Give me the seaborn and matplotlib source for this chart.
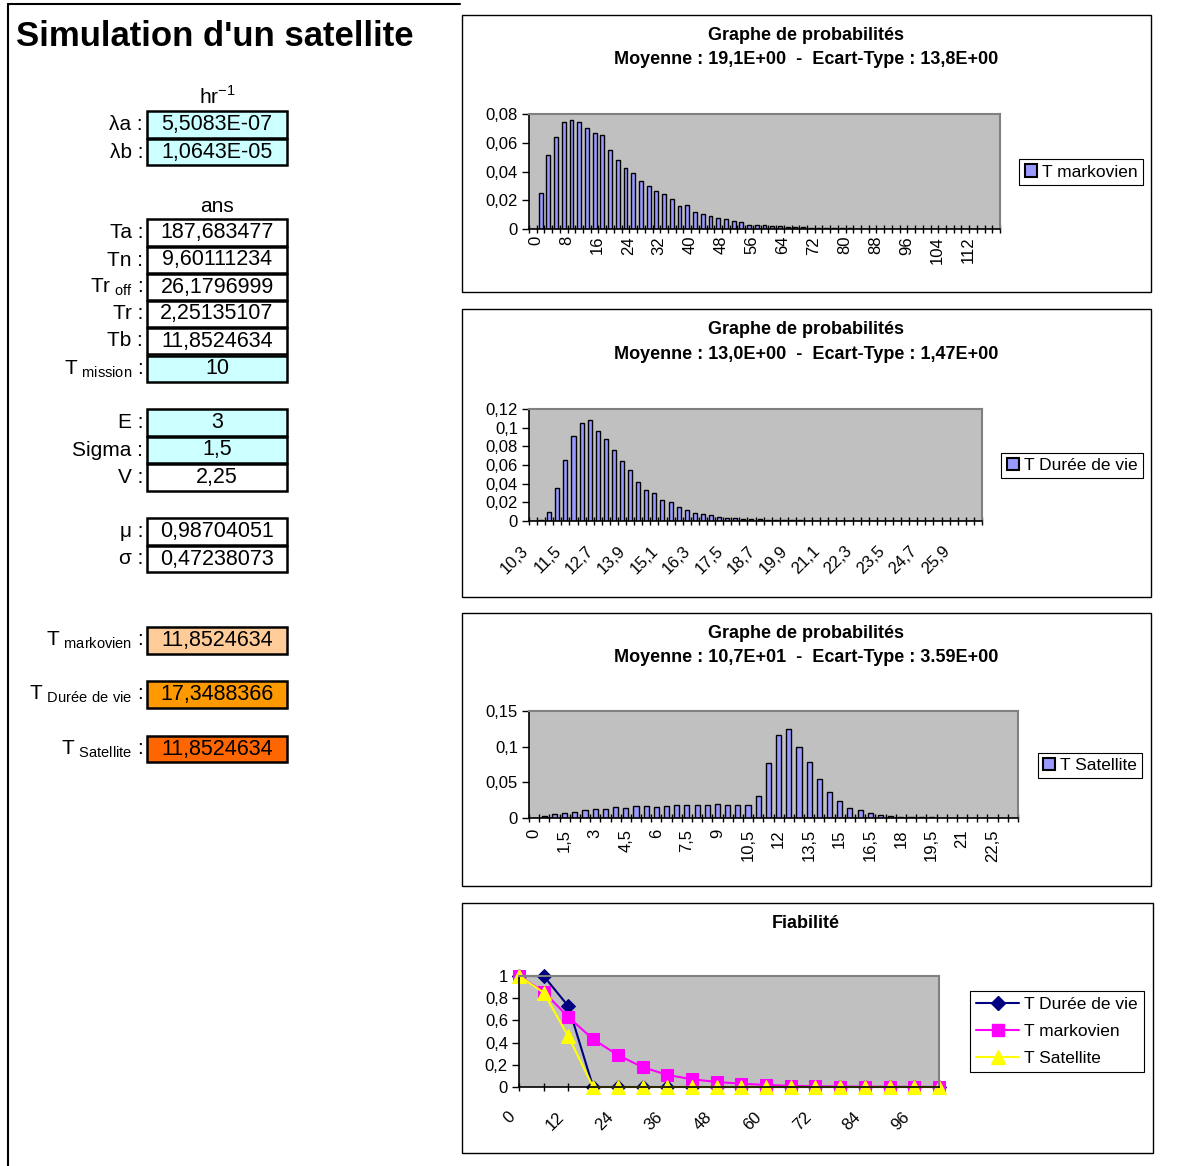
import numpy as np
import pandas as pd
import matplotlib
matplotlib.use("Agg")
import matplotlib.pyplot as plt
import seaborn as sns
from matplotlib.patches import Rectangle, Patch
from matplotlib.lines import Line2D

# ---------------- data ----------------
title_main = "Simulation d'un satellite"

# Chart 1 : T markovien (categories 0..120 step 2)
markov_cats = list(range(0, 121, 2))
markov_prob = [0, 0.025, 0.0515, 0.0639, 0.0742, 0.076, 0.0744, 0.0702, 0.0671, 0.0657,
               0.055, 0.048, 0.0426, 0.039, 0.0337, 0.0302, 0.0262, 0.0243, 0.0206, 0.0157,
               0.0166, 0.0115, 0.0105, 0.0089, 0.0077, 0.0073, 0.0054, 0.0051, 0.003, 0.003,
               0.0028, 0.0021, 0.0019, 0.0016, 0.0014, 0.0012, 0.0010, 0.0009, 0.0007, 0.0006,
               0.0005, 0.0004, 0.0003, 0.0003, 0.0002, 0.0002, 0, 0, 0, 0,
               0, 0, 0, 0, 0, 0, 0, 0, 0, 0, 0]

# Chart 2 : T Durée de vie (categories 10,3 .. 26,8 step 0,3)
vie_cats = [10.3, 10.6, 10.9, 11.2, 11.5, 11.8, 12.1, 12.4, 12.7, 13.0, 13.3, 13.6, 13.9, 14.2,
            14.5, 14.8, 15.1, 15.4, 15.7, 16.0, 16.3, 16.6, 16.9, 17.2, 17.5, 17.8, 18.1, 18.4,
            18.7, 19.0, 19.3, 19.6, 19.9, 20.2, 20.5, 20.8, 21.1, 21.4, 21.7, 22.0, 22.3, 22.6,
            22.9, 23.2, 23.5, 23.8, 24.1, 24.4, 24.7, 25.0, 25.3, 25.6, 25.9, 26.2, 26.5, 26.8]
vie_prob = [0, 0.0014, 0.0097, 0.0349, 0.065, 0.0913, 0.105, 0.1078, 0.0963, 0.0877,
            0.0762, 0.064, 0.0543, 0.0413, 0.0334, 0.0295, 0.023, 0.0201, 0.0151, 0.0122,
            0.009, 0.0072, 0.0061, 0.0047, 0.0036, 0.0029, 0.0025, 0.0022, 0.0018, 0.0014,
            0.001, 0.0009, 0.0008, 0.0006, 0.0005, 0.0004, 0.0003, 0.0003, 0.0002, 0.0002,
            0, 0, 0, 0, 0, 0, 0, 0, 0, 0, 0, 0, 0, 0, 0, 0]

# Chart 3 : T Satellite (categories 0 .. 23,5 step 0,5)
sat_cats = [0, 0.5, 1, 1.5, 2, 2.5, 3, 3.5, 4, 4.5, 5, 5.5, 6, 6.5, 7, 7.5, 8, 8.5, 9, 9.5,
            10, 10.5, 11, 11.5, 12, 12.5, 13, 13.5, 14, 14.5, 15, 15.5, 16, 16.5, 17, 17.5,
            18, 18.5, 19, 19.5, 20, 20.5, 21, 21.5, 22, 22.5, 23, 23.5]
sat_prob = [0, 0.0033, 0.0057, 0.0075, 0.009, 0.0113, 0.0127, 0.0123, 0.0151, 0.0146,
            0.0175, 0.0165, 0.016, 0.0175, 0.0184, 0.0189, 0.0184, 0.0189, 0.0198, 0.0184,
            0.0184, 0.0184, 0.031, 0.077, 0.117, 0.1245, 0.099, 0.079, 0.0552, 0.037,
            0.0236, 0.0142, 0.0113, 0.0075, 0.0042, 0.0028, 0.0019, 0.0014, 0.001, 0.0008,
            0.0006, 0.0005, 0.0004, 0, 0, 0, 0, 0]

# Chart 4 : Fiabilité
fiab_x = [0, 6, 12, 18, 24, 30, 36, 42, 48, 54, 60, 66, 72, 78, 84, 90, 96, 102]
fiab_duree = [1, 1, 0.727, 0, 0, 0, 0, 0, 0, 0, 0, 0, 0, 0, 0, 0, 0, 0]
fiab_markov = [1.0, 0.857, 0.63, 0.43, 0.288, 0.179, 0.109, 0.07, 0.045, 0.03,
               0.018, 0.011, 0.007, 0.004, 0.003, 0.002, 0.001, 0.001]
fiab_sat = [1.0, 0.85, 0.455, 0, 0, 0, 0, 0, 0, 0, 0, 0, 0, 0, 0, 0, 0, 0]

# Left panel table
rate_labels = ["λa :", "λb :"]
rate_values = ["5,5083E-07", "1,0643E-05"]
time_labels = ["Ta :", "Tn :", "Tr$_{\\mathregular{\\ off}}$ :", "Tr :", "Tb :",
               "T$_{\\mathregular{\\ mission}}$ :"]
time_values = ["187,683477", "9,60111234", "26,1796999", "2,25135107", "11,8524634", "10"]
law_labels = ["E :", "Sigma :", "V :"]
law_values = ["3", "1,5", "2,25"]
ln_labels = ["μ :", "σ :"]
ln_values = ["0,98704051", "0,47238073"]
res_labels = ["T$_{\\mathregular{\\ markovien}}$ :", "T$_{\\mathregular{\\ Durée\\ de\\ vie}}$ :",
              "T$_{\\mathregular{\\ Satellite}}$ :"]
res_values = ["11,8524634", "17,3488366", "11,8524634"]

# ---------------- style ----------------
sns.set_style("white")
plt.rcParams['font.family'] = ['Liberation Sans', 'DejaVu Sans']
plt.rcParams['mathtext.fontset'] = 'custom'
plt.rcParams['mathtext.rm'] = 'Liberation Sans'
plt.rcParams['text.color'] = 'black'
plt.rcParams['xtick.color'] = 'black'
plt.rcParams['ytick.color'] = 'black'
plt.rcParams['xtick.labelcolor'] = 'black'
plt.rcParams['ytick.labelcolor'] = 'black'

W, H = 1191, 1166
fig = plt.figure(figsize=(W / 100, H / 100), dpi=100)
fig.patch.set_facecolor("white")


def fx(x):
    return x / W


def fy(y):
    return 1 - y / H


def rect(x0, y0, x1, y1):
    return [x0 / W, 1 - y1 / H, (x1 - x0) / W, (y1 - y0) / H]


def comma(v):
    if v == 0:
        return "0"
    return f"{v:g}".replace(".", ",")


BAR = "#9999FF"
PLOTBG = "#C0C0C0"
TICKFS = 12


def style_axes(ax):
    ax.set_facecolor(PLOTBG)
    for s in ["top", "right"]:
        ax.spines[s].set_color("#808080")
        ax.spines[s].set_linewidth(1.5)
    for s in ["left", "bottom"]:
        ax.spines[s].set_color("black")
        ax.spines[s].set_linewidth(1.2)
    ax.set_xlabel("")
    ax.set_ylabel("")


def slanted_labels(ax, positions, texts, dx_pt, dy_pt):
    # Excel-style 45° category labels, anchored at each category with an offset
    for p, t in zip(positions, texts):
        ax.annotate(t, xy=(p, 0), xycoords=ax.get_xaxis_transform(),
                    xytext=(dx_pt, dy_pt), textcoords="offset points",
                    rotation=45, ha="right", va="top", rotation_mode="anchor",
                    fontsize=TICKFS, annotation_clip=False)


def bar_chart(r, cats, vals, every, last_label_idx, yticks, rot, pad, dx_pt=0.0):
    ax = fig.add_axes(r)
    labels = [comma(c) for c in cats]
    df = pd.DataFrame({"cat": labels, "p": vals})
    sns.barplot(data=df, x="cat", y="p", order=labels, color=BAR, saturation=1,
                edgecolor="black", linewidth=1.0, width=0.5, ax=ax)
    n = len(cats)
    style_axes(ax)
    ax.set_xticks(np.arange(n + 1) - 0.5)
    ax.set_xticklabels([])
    idx = list(range(0, last_label_idx + 1, every))
    if rot == 90:
        cat_px = r[2] * W / n
        off = dx_pt / 0.72 / cat_px
        ax.set_xticks([i + off for i in idx], minor=True)
        ax.set_xticklabels([labels[i] for i in idx], minor=True, rotation=90,
                           ha="center", va="top", fontsize=TICKFS)
        ax.tick_params(axis="x", which="minor", length=0, pad=pad, bottom=True)
    else:
        ax.set_xticks([], minor=True)
        slanted_labels(ax, idx, [labels[i] for i in idx], dx_pt, -pad)
    ax.tick_params(axis="x", which="major", direction="inout", length=6, width=1, color="black", bottom=True)
    ax.set_xlim(-0.5, n - 0.5)
    ax.set_yticks(yticks)
    ax.set_yticklabels([comma(v) for v in yticks], fontsize=TICKFS)
    ax.set_ylim(yticks[0], yticks[-1])
    ax.tick_params(axis="y", direction="out", length=5, width=1, color="black", left=True, pad=3)
    return ax


def frame_box(x0, y0, x1, y1):
    fig.add_artist(Rectangle((fx(x0), fy(y1)), (x1 - x0) / W, (y1 - y0) / H,
                             transform=fig.transFigure, fill=False, edgecolor="black", linewidth=1.0))


def chart_titles(lines, ys):
    for t, y in zip(lines, ys):
        fig.text(fx(806), fy(y), t, ha="center", va="center", fontsize=13, fontweight="bold")


def bar_legend(ax, label, cx, cy):
    h = Patch(facecolor=BAR, edgecolor="black", linewidth=1.5, label=label)
    leg = ax.legend(handles=[h], loc="center", bbox_to_anchor=(fx(cx), fy(cy)),
                    bbox_transform=fig.transFigure, fontsize=12.5, frameon=True, fancybox=False,
                    handlelength=0.7, handleheight=0.7, handletextpad=0.3, borderpad=0.3,
                    borderaxespad=0)
    leg.get_frame().set_edgecolor("black")
    leg.get_frame().set_linewidth(0.8)
    leg.get_frame().set_alpha(1)


# ---------------- chart boxes ----------------
frame_box(462, 15, 1151, 292)
frame_box(462, 309, 1151, 597)
frame_box(462, 613, 1151, 886)
frame_box(462, 903, 1153, 1153)

# Chart 1
ax1 = bar_chart(rect(529, 114, 1000, 229), markov_cats, markov_prob, 4, 56,
                [0, 0.02, 0.04, 0.06, 0.08], 90, 5, dx_pt=2)
chart_titles(["Graphe de probabilités", "Moyenne : 19,1E+00  -  Ecart-Type : 13,8E+00"], [36, 60])
bar_legend(ax1, "T markovien", 1081, 172)

# Chart 2
ax2 = bar_chart(rect(529, 409, 982, 521), vie_cats, vie_prob, 4, 52,
                [0, 0.02, 0.04, 0.06, 0.08, 0.1, 0.12], 45, 16, dx_pt=-8.6)
chart_titles(["Graphe de probabilités", "Moyenne : 13,0E+00  -  Ecart-Type : 1,47E+00"], [330, 354])
bar_legend(ax2, "T Durée de vie", 1072, 465.5)

# Chart 3
ax3 = bar_chart(rect(529, 711, 1018, 818), sat_cats, sat_prob, 3, 45,
                [0, 0.05, 0.1, 0.15], 90, 8)
chart_titles(["Graphe de probabilités", "Moyenne : 10,7E+01  -  Ecart-Type : 3.59E+00"], [634, 658])
bar_legend(ax3, "T Satellite", 1090, 765.5)

# Chart 4 : Fiabilité
r4 = rect(519, 976, 939, 1087)
ax4 = fig.add_axes(r4)
style_axes(ax4)
series = [
    ("T Durée de vie", fiab_duree, "#000080", "D", 7, 1.5),
    ("T markovien", fiab_markov, "#FF00FF", "s", 9, 1.5),
    ("T Satellite", fiab_sat, "#FFFF00", "^", 10.5, 1.5),
]
handles = []
for name, vals, col, mk, ms, lw in series:
    sns.lineplot(x=fiab_x, y=vals, color=col, marker=mk, markersize=ms, markeredgecolor=col,
                 markerfacecolor=col, linewidth=lw, ax=ax4, clip_on=False, legend=False)
    handles.append(Line2D([0], [0], color=col, marker=mk, markersize=ms, markerfacecolor=col,
                          markeredgecolor=col, linewidth=lw, label=name))
ax4.set_xticks(fiab_x)
ax4.set_xticklabels([])
lab_x = [v for i, v in enumerate(fiab_x) if i % 2 == 0 and v <= 96]
slanted_labels(ax4, lab_x, [str(v) for v in lab_x], -8.6, -16)
ax4.tick_params(axis="x", which="major", direction="inout", length=6, width=1, color="black", bottom=True)
ax4.set_xlim(0, 102)
yt4 = [0, 0.2, 0.4, 0.6, 0.8, 1]
ax4.set_yticks(yt4)
ax4.set_yticklabels([comma(v) for v in yt4], fontsize=TICKFS)
ax4.set_ylim(0, 1)
ax4.tick_params(axis="y", direction="out", length=5, width=1, color="black", left=True, pad=3)
fig.text(fx(806), fy(923), "Fiabilité", ha="center", va="center", fontsize=13, fontweight="bold")
leg4 = ax4.legend(handles=handles, loc="center", bbox_to_anchor=(fx(1057), fy(1031.5)),
                  bbox_transform=fig.transFigure, fontsize=12.5, frameon=True, fancybox=False,
                  handlelength=2.5, handletextpad=0.3, borderpad=0.35, labelspacing=0.7,
                  borderaxespad=0)
leg4.get_frame().set_edgecolor("black")
leg4.get_frame().set_linewidth(0.8)
leg4.get_frame().set_alpha(1)

# ---------------- left panel ----------------
fig.add_artist(Line2D([fx(8), fx(8)], [fy(4), fy(1166)], transform=fig.transFigure, color="black", linewidth=1.5))
fig.add_artist(Line2D([fx(8), fx(460)], [fy(4), fy(4)], transform=fig.transFigure, color="black", linewidth=1.5))
fig.text(fx(16), fy(36), title_main, ha="left", va="center", fontsize=25, fontweight="bold")

CYAN = "#CCFFFF"
ROWH = 26.5


def table_rows(labels, values, yc_list, fills):
    for lab, val, yc, fc in zip(labels, values, yc_list, fills):
        fig.add_artist(Rectangle((fx(147), fy(yc + ROWH / 2)), 140 / W, ROWH / H,
                                 transform=fig.transFigure, facecolor=fc, edgecolor="black",
                                 linewidth=1.8))
        fig.text(fx(217), fy(yc), val, ha="center", va="center", fontsize=15.5)
        fig.text(fx(143), fy(yc), lab, ha="right", va="center", fontsize=15)


fig.text(fx(217), fy(97), "hr$^{\\mathregular{-1}}$", ha="center", va="center", fontsize=15)
table_rows(rate_labels, rate_values, [124.5, 152], [CYAN, CYAN])
fig.text(fx(217), fy(207), "ans", ha="center", va="center", fontsize=15)
table_rows(time_labels, time_values, [232.5, 260, 287, 314, 341, 369],
           ["white"] * 5 + [CYAN])
table_rows(law_labels, law_values, [422.5, 450, 477.5], [CYAN, CYAN, "white"])
table_rows(ln_labels, ln_values, [531.5, 559], ["white", "white"])
table_rows(res_labels, res_values, [640.5, 694.5, 749], ["#FFCC99", "#FF9900", "#FF6600"])

fig.savefig("out.png", dpi=100, facecolor="white")
